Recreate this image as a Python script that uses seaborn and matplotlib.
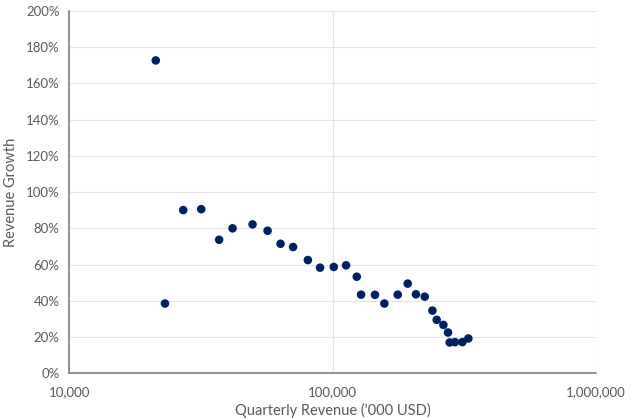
import matplotlib
matplotlib.use("Agg")
import matplotlib.pyplot as plt
import matplotlib.ticker as mticker
import seaborn as sns
import pandas as pd

revenue = [21300, 23080, 27080, 31700, 37070, 41700, 49660, 56640, 63430, 70800,
           80560, 89650, 101060, 112500, 123560, 128300, 144900, 157300, 176800,
           192950, 207300, 223900, 239500, 248600, 263600, 274400, 278500, 291700,
           311200, 327900]
growth = [172.7, 38.5, 90.1, 90.6, 73.7, 80.0, 82.2, 78.7, 71.5, 69.7,
          62.5, 58.3, 58.7, 59.6, 53.3, 43.4, 43.3, 38.5, 43.4,
          49.5, 43.6, 42.3, 34.6, 29.5, 26.7, 22.5, 17.0, 17.2,
          17.2, 19.2]
y_ticks = [0, 20, 40, 60, 80, 100, 120, 140, 160, 180, 200]
x_ticks = [10000, 100000, 1000000]

df = pd.DataFrame({"revenue": revenue, "growth": [g / 100 for g in growth]})

sns.set_theme(style="white")
plt.rcParams["font.family"] = ["Lato", "DejaVu Sans"]

fig = plt.figure(figsize=(6.4, 4.18), dpi=100)
ax = fig.add_axes([0.1083, 0.107, 0.8227, 0.8667])

sns.scatterplot(data=df, x="revenue", y="growth", ax=ax, color="#002060",
                s=38, edgecolor="none", linewidth=0, zorder=3)

ax.set_xscale("log")
ax.set_xlim(10000, 1000000)
ax.set_ylim(0, 2.0)
ax.set_xticks(x_ticks)
ax.xaxis.set_minor_locator(mticker.NullLocator())
ax.xaxis.set_major_formatter(mticker.FuncFormatter(lambda v, p: f"{int(round(v)):,}"))
ax.set_yticks([t / 100 for t in y_ticks])
ax.yaxis.set_major_formatter(mticker.FuncFormatter(lambda v, p: f"{int(round(v * 100))}%"))

ax.grid(True, which="major", color="#e4e4e4", linewidth=0.8, zorder=0)
ax.set_axisbelow(True)
for side in ["top", "right"]:
    ax.spines[side].set_visible(False)
for side in ["left", "bottom"]:
    ax.spines[side].set_color("#7f7f7f")
    ax.spines[side].set_linewidth(1.2)

ax.tick_params(axis="both", which="major", direction="out", length=4, width=1,
               color="#7f7f7f", labelcolor="#595959", labelsize=9.5, pad=3)
ax.tick_params(axis="x", pad=5)

ax.set_xlabel("Quarterly Revenue ('000 USD)", color="#595959", fontsize=10.5, labelpad=4)
ax.set_ylabel("Revenue Growth", color="#595959", fontsize=10.5, labelpad=6)

fig.savefig("out.png", dpi=100)
